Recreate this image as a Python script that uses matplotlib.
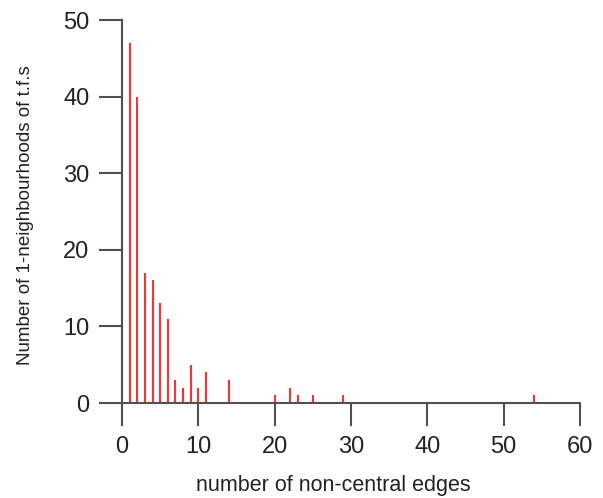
import matplotlib.pyplot as plt

plt.rcParams['font.family'] = ['Liberation Sans', 'DejaVu Sans']

edges = [1, 2, 3, 4, 5, 6, 7, 8, 9, 10, 11, 14, 20, 22, 23, 25, 29, 54]
counts = [47, 40, 17, 16, 13, 11, 3, 2, 5, 2, 4, 3, 1, 2, 1, 1, 1, 1]

fig = plt.figure(figsize=(6.03, 4.98), dpi=100)
ax = fig.add_axes([122 / 603, 1 - 403 / 498, 458 / 603, 383 / 498])

ax.vlines(edges, 0, counts, colors='#ff3030', linewidth=1.5, clip_on=False)

ax.set_xlim(0, 60)
ax.set_ylim(0, 50)
ax.set_xticks(range(0, 61, 10))
ax.set_yticks(range(0, 51, 10))

for side in ['top', 'right']:
    ax.spines[side].set_visible(False)
for side in ['left', 'bottom']:
    ax.spines[side].set_color('#505050')
    ax.spines[side].set_linewidth(1.5)

ax.tick_params(axis='both', direction='out', length=16.5, width=1.5,
               color='#505050', labelsize=17, labelcolor='#222222', pad=7)

ax.set_xlabel('number of non-central edges', fontsize=15.5, color='#222222')
ax.set_ylabel('Number of 1-neighbourhoods of t.f.s', fontsize=13.5, color='#222222')
# label positions in pixels, converted to axes fractions
ax.xaxis.set_label_coords((333 - 122) / 458, (403 - 486) / 383, transform=ax.transAxes)
ax.yaxis.set_label_coords((26 - 122) / 458, 0.49, transform=ax.transAxes)
ax.xaxis.label.set_va('center')
ax.yaxis.label.set_va('center')

fig.savefig('out.png', dpi=100)
